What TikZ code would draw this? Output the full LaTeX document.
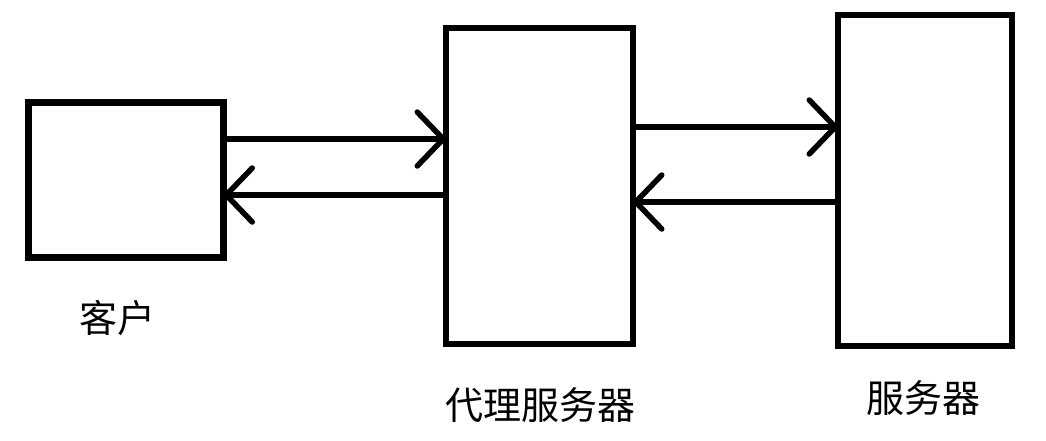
\documentclass[tikz,border=0pt]{standalone}
\usepackage{fontspec}
\newfontfamily\cjk{Noto Sans CJK SC}
\usetikzlibrary{arrows.meta}
\begin{document}
\begin{tikzpicture}[x=1pt,y=-1pt,
  box/.style={draw, line width=6.5pt, inner sep=0pt, outer sep=0pt, fill=white},
  lbl/.style={font=\cjk\fontsize{38}{40}\selectfont, inner sep=0pt},
  conn/.style={line width=5.5pt, line cap=round,
    -{Straight Barb[length=26pt, width=54pt, round]}}]
\useasboundingbox (0,0) rectangle (1046,440);
\node[box, minimum width=195pt, minimum height=155pt] (client) at (126,180) {};
\node[box, minimum width=187pt, minimum height=316pt] (proxy) at (539.5,186) {};
\node[box, minimum width=174pt, minimum height=331pt] (server) at (925,180.5) {};
\node[lbl] (clientlbl) at (117,318) {客户};
\node[lbl] (proxylbl) at (540,405) {代理服务器};
\node[lbl] (serverlbl) at (923,398) {服务器};
\coordinate (y1) at (0,139);
\coordinate (y2) at (0,195);
\coordinate (y3) at (0,127);
\coordinate (y4) at (0,202);
\draw[conn] (client.east |- y1) -- (proxy.west |- y1);
\draw[conn] (proxy.west |- y2) -- (client.east |- y2);
\draw[conn] (proxy.east |- y3) -- (server.west |- y3);
\draw[conn] (server.west |- y4) -- (proxy.east |- y4);
\end{tikzpicture}
\end{document}
